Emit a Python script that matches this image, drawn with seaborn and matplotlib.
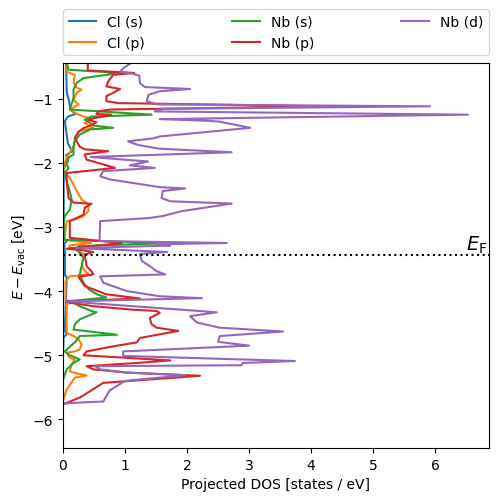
import matplotlib
matplotlib.use("Agg")
import matplotlib.pyplot as plt
import seaborn as sns
import pandas as pd

# ---------------- data ----------------
E_F = -3.445

labels = ["Cl (s)", "Cl (p)", "Nb (s)", "Nb (p)", "Nb (d)"]
colors = ["#1f77b4", "#ff7f0e", "#2ca02c", "#d62728", "#9467bd"]

cl_s_E = [-0.445, -0.90, -1.05, -1.17, -1.24, -1.28, -1.35, -1.50, -1.70, -1.82, -1.88, -1.95,
          -2.10, -3.18, -3.22, -3.26, -3.40, -3.75, -3.78, -4.60, -4.68, -4.72, -5.0, -5.76]
cl_s_dos = [0.05, 0.06, 0.10, 0.12, 0.20, 0.08, 0.03, 0.05, 0.08, 0.15, 0.05, 0.08,
            0.01, 0.01, 0.06, 0.02, 0.03, 0.03, 0.06, 0.03, 0.05, 0.01, 0.0, 0.0]

cl_p_E = [-0.445, -0.58, -0.63, -0.755, -0.83, -0.86, -0.91, -1.02, -1.09, -1.17, -1.25, -1.32,
          -1.38, -1.455, -1.51, -1.64, -1.74, -1.87, -1.92, -2.0, -2.13, -2.235, -2.34, -2.44,
          -2.57, -2.65, -2.755, -2.83, -2.885, -2.91, -3.20, -3.25, -3.29, -3.33, -3.35, -3.43,
          -3.56, -3.66, -3.74, -3.77, -3.85, -4.14, -4.17, -4.20, -4.65, -4.70, -4.75, -4.83,
          -4.91, -4.94, -4.96, -5.04, -5.065, -5.14, -5.25, -5.27, -5.315, -5.35, -5.53, -5.71, -5.76]
cl_p_dos = [0.06, 0.06, 0.19, 0.17, 0.22, 0.30, 0.22, 0.17, 0.25, 0.11, 0.25, 0.46,
            0.35, 0.49, 0.25, 0.19, 0.17, 0.09, 0.06, 0.03, 0.0, 0.11, 0.17, 0.22,
            0.30, 0.41, 0.41, 0.33, 0.19, 0.06, 0.02, 0.45, 0.10, 0.11, 0.22, 0.35,
            0.30, 0.33, 0.41, 0.11, 0.04, 0.04, 0.20, 0.06, 0.06, 0.17, 0.25, 0.30,
            0.27, 0.19, 0.06, 0.11, 0.19, 0.14, 0.11, 0.17, 0.38, 0.19, 0.06, 0.0, 0.0]

nb_s_E = [-0.445, -0.55, -0.60, -0.68, -0.755, -0.86, -0.99, -1.17, -1.25, -1.28, -1.33, -1.38,
          -1.42, -1.455, -1.48, -1.56, -1.665, -1.77, -1.87, -1.92, -2.03, -2.08, -2.16, -2.29,
          -2.45, -2.57, -2.73, -2.83, -2.91, -3.20, -3.255, -3.30, -3.35, -3.48, -3.61, -3.74,
          -3.87, -3.975, -4.05, -4.10, -4.16, -4.18, -4.235, -4.31, -4.33, -4.44, -4.52, -4.60,
          -4.68, -4.70, -4.80, -4.91, -4.94, -5.00, -5.065, -5.12, -5.22, -5.38, -5.76]
nb_s_dos = [0.06, 0.09, 0.92, 0.33, 0.22, 0.17, 0.17, 0.11, 1.43, 0.46, 0.35, 0.44,
            0.50, 0.81, 0.44, 0.27, 0.19, 0.17, 0.17, 0.09, 0.06, 0.09, 0.03, 0.06,
            0.11, 0.14, 0.11, 0.03, 0.01, 0.02, 1.62, 0.25, 0.22, 0.33, 0.30, 0.27,
            0.33, 0.42, 0.55, 0.70, 0.06, 0.17, 0.27, 0.46, 0.54, 0.27, 0.19, 0.17,
            0.87, 0.27, 0.19, 0.06, 0.03, 0.11, 0.27, 0.17, 0.06, 0.0, 0.0]

nb_p_E = [-0.445, -0.56, -0.60, -0.63, -0.73, -0.81, -0.85, -0.91, -0.96, -1.04, -1.07, -1.12,
          -1.17, -1.20, -1.24, -1.25, -1.28, -1.30, -1.33, -1.37, -1.42, -1.46, -1.52, -1.61,
          -1.75, -1.79, -1.82, -1.87, -1.95, -2.04, -2.08, -2.16, -2.29, -2.55, -2.62, -2.64,
          -2.70, -2.81, -2.91, -3.17, -3.25, -3.34, -3.36, -3.39, -3.43, -3.61, -3.69, -3.74,
          -3.78, -3.92, -4.05, -4.115, -4.16, -4.18, -4.235, -4.29, -4.31, -4.34, -4.42, -4.52,
          -4.57, -4.62, -4.73, -4.80, -4.85, -4.94, -5.00, -5.08, -5.12, -5.17, -5.22, -5.27,
          -5.32, -5.43, -5.66, -5.74, -5.76]
nb_p_dos = [0.40, 0.40, 1.15, 0.81, 0.73, 0.70, 0.92, 0.81, 0.70, 0.70, 0.89, 4.30,
            0.76, 0.57, 0.54, 0.78, 0.65, 0.52, 0.41, 0.54, 0.44, 0.33, 0.25, 0.19,
            0.27, 0.35, 0.73, 0.35, 0.38, 0.70, 0.84, 0.06, 0.06, 0.09, 0.17, 0.46,
            0.35, 0.33, 0.11, 0.11, 0.95, 0.06, 0.30, 0.49, 0.35, 0.38, 0.46, 0.49,
            0.25, 0.35, 0.70, 1.24, 0.06, 0.11, 0.49, 1.13, 1.51, 1.56, 1.40, 1.43,
            1.51, 1.86, 1.24, 1.19, 0.87, 0.38, 0.33, 1.73, 1.19, 0.38, 0.49, 1.03,
            2.21, 0.65, 0.27, 0.06, 0.0]

nb_d_E = [-0.445, -0.52, -0.58, -0.61, -0.64, -0.76, -0.82, -0.85, -0.885, -0.94, -1.04, -1.09,
          -1.12, -1.16, -1.20, -1.25, -1.32, -1.345, -1.36, -1.455, -1.59, -1.62, -1.665, -1.72,
          -1.78, -1.836, -1.91, -1.98, -2.04, -2.08, -2.13, -2.21, -2.26, -2.38, -2.40, -2.44,
          -2.55, -2.60, -2.635, -2.755, -2.83, -2.86, -2.91, -3.22, -3.25, -3.27, -3.29, -3.33,
          -3.39, -3.42, -3.53, -3.61, -3.69, -3.74, -3.77, -3.87, -4.00, -4.08, -4.11, -4.16,
          -4.33, -4.39, -4.49, -4.57, -4.63, -4.70, -4.79, -4.85, -4.94, -5.01, -5.09, -5.12,
          -5.155, -5.17, -5.22, -5.27, -5.31, -5.40, -5.55, -5.72, -5.745, -5.76]
nb_d_dos = [1.10, 0.98, 0.92, 1.11, 1.23, 1.24, 1.32, 2.05, 1.56, 1.38, 1.35, 1.51,
            5.92, 1.60, 1.48, 6.53, 1.56, 2.34, 2.53, 3.02, 1.56, 1.45, 1.05, 1.20,
            1.55, 2.72, 0.45, 1.37, 1.08, 1.48, 0.65, 0.60, 0.76, 1.56, 1.97, 1.61,
            1.59, 1.73, 2.72, 1.91, 1.61, 1.40, 0.60, 0.59, 2.64, 1.50, 1.73, 0.22,
            1.68, 1.24, 1.27, 1.40, 1.51, 1.65, 0.60, 0.65, 1.03, 1.56, 2.24, 0.06,
            2.48, 2.05, 2.16, 2.53, 3.55, 2.53, 2.50, 3.00, 0.97, 0.97, 3.74, 2.90,
            2.88, 0.52, 0.60, 1.03, 1.97, 1.00, 0.75, 0.65, 0.10, 0.0]

series = [(cl_s_E, cl_s_dos), (cl_p_E, cl_p_dos), (nb_s_E, nb_s_dos),
          (nb_p_E, nb_p_dos), (nb_d_E, nb_d_dos)]

# ---------------- plot ----------------
fig = plt.figure(figsize=(4.98, 5.02), dpi=100)
ax = fig.add_axes([0.1265, 0.1056, 0.8554, 0.7669])

for (E, dos), lab, col in zip(series, labels, colors):
    df = pd.DataFrame({"E": E, "dos": dos})
    sns.lineplot(data=df, x="dos", y="E", orient="y", sort=False, estimator=None,
                 color=col, label=lab, lw=1.5, ax=ax)

ax.axhline(E_F, color="k", ls=":", lw=1.5)
ax.text(6.5, E_F, r"$E_\mathrm{F}$", fontsize=14, ha="left", va="bottom")

ax.set_xlim(0, 6.87)
ax.set_ylim(E_F - 3, E_F + 3)
ax.set_xlabel("Projected DOS [states / eV]")
ax.set_ylabel(r"$E - E_\mathrm{vac}$ [eV]")

ax.legend(loc="lower left", bbox_to_anchor=(0, 1.02, 1, 0.102), ncol=3,
          mode="expand", borderaxespad=0)

fig.savefig("out.png", dpi=100)
